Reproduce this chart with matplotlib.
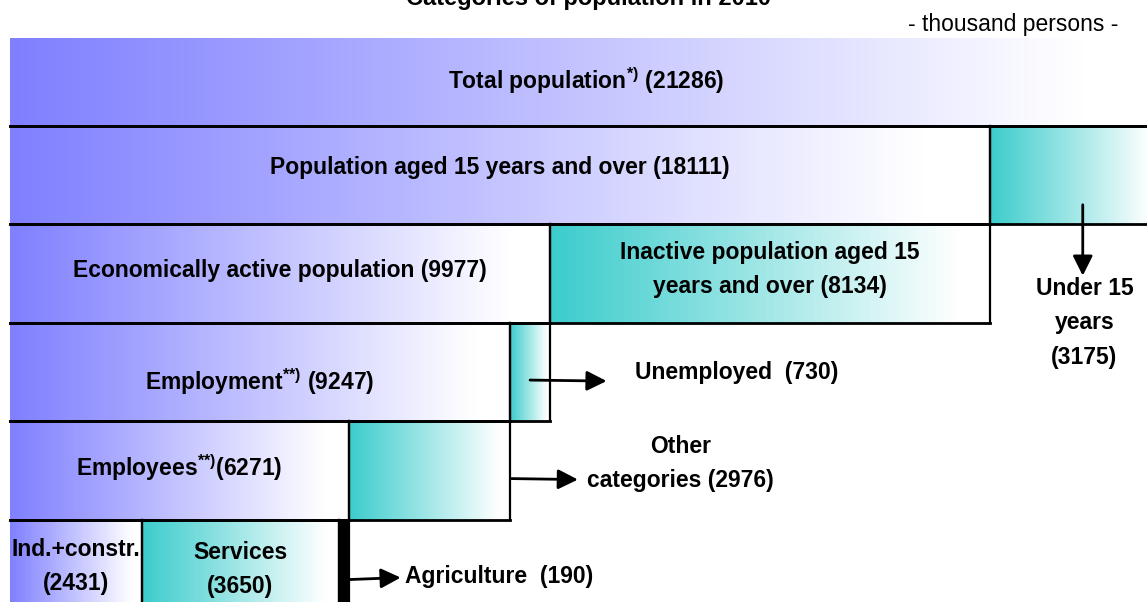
import numpy as np
import matplotlib.pyplot as plt
from matplotlib.colors import to_rgb

plt.rcParams['font.family'] = ['Liberation Sans', 'DejaVu Sans']
plt.rcParams['mathtext.fontset'] = 'custom'
plt.rcParams['mathtext.rm'] = 'Liberation Sans'
plt.rcParams['mathtext.bf'] = 'Liberation Sans:bold'

# thousand persons, one list per level of the breakdown
level0_names = ['Total population']
level0_values = [21286]
level1_names = ['Population aged 15 years and over', 'Under 15 years']
level1_values = [18111, 3175]
level2_names = ['Economically active population', 'Inactive population aged 15 years and over']
level2_values = [9977, 8134]
level3_names = ['Employment', 'Unemployed']
level3_values = [9247, 730]
level4_names = ['Employees', 'Other categories']
level4_values = [6271, 2976]
level5_names = ['Ind.+constr.', 'Services', 'Agriculture']
level5_values = [2431, 3650, 190]

levels = [
    (level0_names, level0_values, ['blue']),
    (level1_names, level1_values, ['blue', 'teal']),
    (level2_names, level2_values, ['blue', 'teal']),
    (level3_names, level3_values, ['blue', 'teal']),
    (level4_names, level4_values, ['blue', 'teal']),
    (level5_names, level5_values, ['blue', 'teal', 'black']),
]

# how each name is written; %d takes the value
label_fmt = {
    'Total population': r'Total population$^{\mathbf{*)}}$ (%d)',
    'Population aged 15 years and over': 'Population aged 15 years and over (%d)',
    'Under 15 years': 'Under 15\nyears\n(%d)',
    'Economically active population': 'Economically active population (%d)',
    'Inactive population aged 15 years and over': 'Inactive population aged 15\nyears and over (%d)',
    'Employment': r'Employment$^{\mathbf{{*}{*})}}$ (%d)',
    'Unemployed': 'Unemployed  (%d)',
    'Employees': r'Employees$^{\mathbf{{*}{*})}}$(%d)',
    'Other categories': 'Other\ncategories (%d)',
    'Ind.+constr.': 'Ind.+constr.\n(%d)',
    'Services': 'Services\n(%d)',
    'Agriculture': 'Agriculture  (%d)',
}
# labels that sit outside their box, next to an arrow
outside = ['Under 15 years', 'Unemployed', 'Other categories', 'Agriculture']
# small vertical nudges of the in-box labels, in pixels (down is positive)
nudge_px = {'Total population': -1, 'Population aged 15 years and over': -8,
            'Economically active population': -3,
            'Inactive population aged 15 years and over': -4,
            'Employment': 9, 'Employees': -3, 'Ind.+constr.': -3, 'Services': 0}

colors = {'blue': '#8080ff', 'teal': '#3ccccc', 'black': '#000000'}
FS = 16.5
LS = 1.63
ROW_PX = 98.5


def gradient(color, n=256, stop=0.93):
    c = np.array(to_rgb(color))
    t = np.clip(np.linspace(0, 1, n) / stop, 0, 1)[:, None]
    rgb = c * (1 - t) + np.ones(3) * t
    return rgb[None, :, :]


fig = plt.figure(figsize=(11.47, 6.02), dpi=100)
ax = fig.add_axes([0, 0, 1, 1])
ax.set_xlim(-185, 21016)
ax.set_ylim(5.833, -0.279)
ax.axis('off')

lw_h, lw_v = 2.0, 1.6
boxes = {}
for k, (names, values, kinds) in enumerate(levels):
    y_top = k if k > 0 else 0.11
    y_bot = k + 1
    starts = np.concatenate([[0], np.cumsum(values)[:-1]])
    for name, x0, v, kind in zip(names, starts, values, kinds):
        x1 = x0 + v
        boxes[name] = (x0, x1, y_top, y_bot)
        if kind == 'black':
            ax.fill_between([x0, x1], y_top, y_bot, color='black', lw=0, zorder=2)
        else:
            ax.imshow(gradient(colors[kind]), extent=(x0, x1, y_bot, y_top),
                      aspect='auto', interpolation='bilinear', zorder=1)
        # frame: no line on the far left, the top box has only its bottom
        ax.plot([x0, x1], [y_bot, y_bot], color='black', lw=lw_h, zorder=3,
                solid_capstyle='projecting')
        if k > 0:
            ax.plot([x0, x1], [y_top, y_top], color='black', lw=lw_h, zorder=3,
                    solid_capstyle='projecting')
            ax.plot([x1, x1], [y_top, y_bot], color='black', lw=lw_v, zorder=3)
            if x0 > 0:
                ax.plot([x0, x0], [y_top, y_bot], color='black', lw=lw_v, zorder=3)
        if name not in outside:
            txt = label_fmt[name] % v
            yc = (y_top + y_bot) / 2 + nudge_px.get(name, 0) / ROW_PX
            ax.text((x0 + x1) / 2, yc, txt, ha='center', va='center',
                    fontsize=FS, fontweight='bold', linespacing=LS, zorder=4)

arrow = dict(arrowstyle='-|>,head_length=0.6,head_width=0.3', color='black',
             lw=2, mutation_scale=20, shrinkA=0, shrinkB=0)

# under 15: arrow straight down out of the box
x0, x1, yt, yb = boxes['Under 15 years']
xc = (x0 + x1) / 2 + 130
ax.annotate('', xy=(xc, yb + 0.52), xytext=(xc, yt + 0.8), arrowprops=arrow, zorder=5)
ax.text(xc + 30, yb + 1.0, label_fmt['Under 15 years'] % level1_values[1],
        ha='center', va='center', fontsize=FS, fontweight='bold', linespacing=LS)

# unemployed
x0, x1, yt, yb = boxes['Unemployed']
ax.annotate('', xy=(x1 + 1050, yt + 0.59), xytext=((x0 + x1) / 2, yt + 0.58),
            arrowprops=arrow, zorder=5)
ax.text(x1 + 1570, yt + 0.5, label_fmt['Unemployed'] % level3_values[1],
        ha='left', va='center', fontsize=FS, fontweight='bold')

# other categories
x0, x1, yt, yb = boxes['Other categories']
ax.annotate('', xy=(x1 + 1250, yt + 0.59), xytext=(x1 + 20, yt + 0.58),
            arrowprops=arrow, zorder=5)
ax.text(x1 + 3150, yt + 0.43, label_fmt['Other categories'] % level4_values[1],
        ha='center', va='center', fontsize=FS, fontweight='bold', linespacing=LS)

# agriculture
x0, x1, yt, yb = boxes['Agriculture']
ax.annotate('', xy=(x1 + 950, yt + 0.585), xytext=(x1, yt + 0.605),
            arrowprops=arrow, zorder=5)
ax.text(x1 + 1030, yt + 0.575, label_fmt['Agriculture'] % level5_values[2],
        ha='left', va='center', fontsize=FS, fontweight='bold')

fig.text(589 / 1147, 1 - 5 / 602, 'Categories of population in 2010', ha='center',
         va='baseline', fontsize=17, fontweight='bold')
fig.text(1 - 29 / 1147, 1 - 24 / 602, '- thousand persons -', ha='right',
         va='center', fontsize=16.5)

fig.savefig('out.png', dpi=100)
